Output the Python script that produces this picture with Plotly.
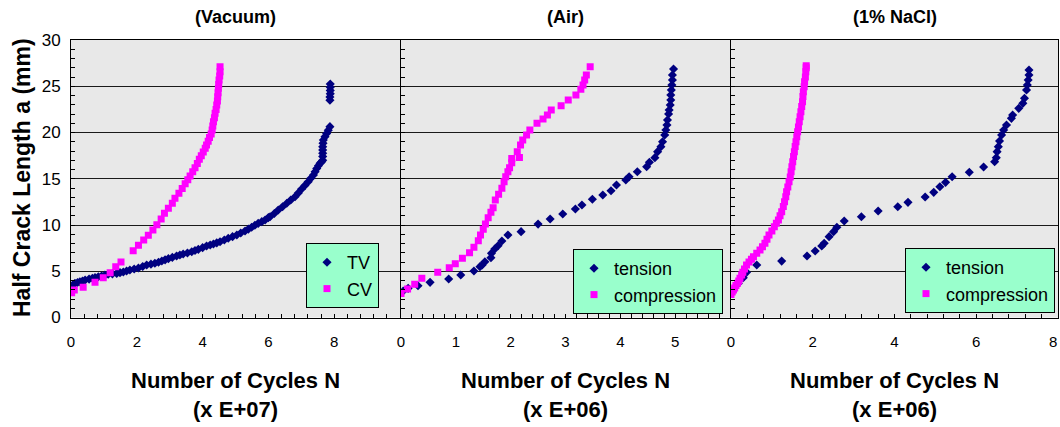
import plotly.graph_objects as go

# ---------------- data ----------------
# Panel 1 (Vacuum), N in units of 1E+07, a in mm
vac_tv_n = [0.00, 0.05, 0.12, 0.20, 0.27, 0.35, 0.43, 0.55, 0.65, 0.73, 0.83, 0.93, 1.03, 1.13, 1.26,
            1.39, 1.49, 1.59, 1.69, 1.79, 1.92, 2.05, 2.18, 2.30, 2.43, 2.55, 2.66, 2.76, 2.86, 2.96,
            3.08, 3.21, 3.31, 3.41, 3.54, 3.67, 3.77, 3.87, 4.00, 4.12, 4.23, 4.33, 4.43, 4.53, 4.66,
            4.78, 4.91, 5.04, 5.16, 5.29, 5.39, 5.49, 5.59, 5.69, 5.80, 5.90, 6.00, 6.05, 6.18, 6.30,
            6.43, 6.56, 6.68, 6.81, 6.91, 7.01, 7.11, 7.21, 7.29, 7.37, 7.42, 7.47, 7.52, 7.57, 7.62,
            7.65, 7.65, 7.65, 7.65, 7.65, 7.66, 7.67, 7.72, 7.77, 7.82, 7.87,
            7.87, 7.87, 7.88, 7.88, 7.88, 7.88]
vac_tv_a = [3.33, 3.50, 3.69, 3.78, 3.87, 3.95, 4.05, 4.15, 4.25, 4.31, 4.40, 4.49, 4.58, 4.67, 4.72,
            4.77, 4.85, 4.92, 5.03, 5.14, 5.25, 5.35, 5.52, 5.68, 5.77, 5.86, 5.98, 6.11, 6.23, 6.36,
            6.50, 6.65, 6.75, 6.86, 6.98, 7.11, 7.24, 7.37, 7.55, 7.73, 7.84, 7.95, 8.07, 8.19, 8.38,
            8.56, 8.74, 8.92, 9.13, 9.35, 9.55, 9.75, 9.97, 10.18, 10.36, 10.54, 10.80, 10.90, 11.25, 11.62,
            11.98, 12.35, 12.70, 13.06, 13.47, 13.89, 14.28, 14.68, 15.05, 15.40, 15.75, 16.10, 16.40, 16.67, 16.85,
            17.00, 17.40, 17.75, 18.10, 18.46, 18.85, 19.19, 19.55, 19.90, 20.25, 20.63,
            23.50, 23.85, 24.20, 24.55, 24.90, 25.25]
vac_cv_n = [0.02, 0.10, 0.37, 0.73, 0.98, 1.19, 1.36, 1.52, 1.89, 2.05, 2.21, 2.35, 2.49, 2.61, 2.74,
            2.84, 2.96, 3.08, 3.16, 3.28, 3.38, 3.47, 3.55, 3.62, 3.70, 3.77, 3.84, 3.90, 3.96, 4.02,
            4.08, 4.12, 4.17, 4.21, 4.26, 4.29, 4.31, 4.33, 4.36, 4.38, 4.41, 4.43, 4.45, 4.46, 4.47,
            4.48, 4.49, 4.50, 4.52, 4.53, 4.53]
vac_cv_a = [2.68, 2.97, 3.26, 3.80, 4.31, 4.85, 5.50, 6.00, 7.22, 7.80, 8.38, 8.88, 9.46, 10.03, 10.65,
            11.26, 11.80, 12.35, 12.89, 13.43, 13.95, 14.45, 14.90, 15.30, 15.75, 16.20, 16.65, 17.10, 17.50, 17.90,
            18.30, 18.65, 19.05, 19.45, 19.85, 20.27, 20.70, 21.17, 21.60, 22.07, 22.50, 22.97, 23.40, 23.87, 24.30,
            24.78, 25.20, 25.68, 26.10, 26.57, 27.10]

# Panel 2 (Air), N in units of 1E+06
air_t_n = [0.04, 0.13, 0.31, 0.53, 0.87, 1.09, 1.33, 1.44, 1.48, 1.53, 1.64, 1.65, 1.71, 1.77, 1.84,
           1.95, 2.19, 2.50, 2.72, 2.95, 3.18, 3.30, 3.49, 3.68, 3.83, 3.93, 4.10, 4.16, 4.31, 4.48,
           4.53, 4.63, 4.68, 4.74, 4.77, 4.81, 4.83, 4.85, 4.86, 4.88, 4.89, 4.91, 4.92, 4.92, 4.93,
           4.94, 4.95, 4.95, 4.97]
air_t_a = [2.86, 3.15, 3.44, 3.80, 4.16, 4.60, 5.03, 5.50, 5.68, 6.03, 6.47, 6.94, 7.40, 7.76, 8.27,
           8.92, 9.28, 10.10, 10.65, 11.19, 11.73, 12.16, 12.78, 13.24, 13.71, 14.32, 14.86, 15.22, 15.76, 16.30,
           16.78, 17.28, 17.93, 18.47, 19.00, 19.73, 20.27, 20.81, 21.35, 22.00, 22.43, 22.97, 23.51, 24.05, 24.59,
           25.14, 25.68, 26.22, 26.86]
air_c_n = [0.00, 0.12, 0.25, 0.38, 0.67, 0.88, 0.99, 1.12, 1.25, 1.33, 1.41, 1.45, 1.50, 1.54, 1.59,
           1.64, 1.68, 1.72, 1.78, 1.84, 1.88, 1.91, 1.95, 1.98, 2.02, 2.02, 2.16, 2.12, 2.18, 2.22,
           2.29, 2.35, 2.48, 2.59, 2.67, 2.74, 2.92, 3.05, 3.19, 3.28, 3.32, 3.35, 3.38, 3.45]
air_c_a = [2.60, 3.08, 3.59, 4.24, 4.88, 5.39, 5.82, 6.40, 7.01, 7.59, 8.30, 8.92, 9.54, 10.10, 10.79,
           11.37, 11.87, 12.70, 13.32, 13.97, 14.68, 15.22, 15.76, 16.20, 16.74, 17.20, 17.30, 17.93, 18.65, 19.19,
           19.73, 20.27, 21.00, 21.46, 21.89, 22.43, 22.90, 23.51, 24.05, 24.67, 25.14, 25.68, 26.22, 27.11]

# Panel 3 (1% NaCl), N in units of 1E+06
nacl_t_n = [0.06, 0.18, 0.30, 0.38, 0.63, 1.24, 1.86, 2.06, 2.22, 2.28, 2.40, 2.51, 2.59, 2.77, 3.19,
            3.60, 4.08, 4.33, 4.75, 4.96, 5.11, 5.25, 5.41, 5.83, 6.18, 6.45, 6.49, 6.51, 6.54, 6.57,
            6.62, 6.67, 6.74, 6.86, 6.89, 7.04, 7.14, 7.18, 7.23, 7.25, 7.27, 7.29, 7.29]
nacl_t_a = [2.97, 3.70, 4.31, 4.88, 5.68, 6.10, 6.65, 7.19, 7.73, 8.02, 8.74, 9.28, 9.75, 10.43, 10.90,
            11.51, 11.98, 12.45, 13.03, 13.53, 14.14, 14.61, 15.22, 15.70, 16.27, 16.84, 17.28, 17.93, 18.47, 19.08,
            19.73, 20.27, 20.81, 21.53, 21.89, 22.61, 23.15, 23.70, 24.59, 25.14, 25.68, 26.22, 26.76]
nacl_c_n = [0.00, 0.03, 0.06, 0.09, 0.12, 0.16, 0.19, 0.22, 0.26, 0.29, 0.33, 0.38, 0.44, 0.50, 0.55,
            0.63, 0.71, 0.77, 0.83, 0.88, 0.93, 1.00, 1.06, 1.11, 1.16, 1.20, 1.24, 1.28, 1.31, 1.34,
            1.36, 1.39, 1.42, 1.45, 1.47, 1.49, 1.51, 1.53, 1.55, 1.57, 1.59, 1.61, 1.63, 1.65, 1.67,
            1.69, 1.71, 1.73, 1.75, 1.76, 1.77, 1.79, 1.80, 1.82, 1.83, 1.84, 1.84]
nacl_c_a = [2.50, 2.75, 2.97, 3.20, 3.45, 3.70, 3.95, 4.25, 4.59, 4.90, 5.25, 5.68, 6.00, 6.30, 6.57,
            6.95, 7.30, 7.65, 8.02, 8.45, 8.92, 9.35, 9.82, 10.20, 10.54, 11.00, 11.44, 12.00, 12.52, 13.05,
            13.60, 14.10, 14.68, 15.20, 15.76, 16.30, 16.84, 17.40, 17.93, 18.50, 19.01, 19.55, 20.09, 20.60, 21.17,
            21.70, 22.25, 22.80, 23.33, 23.90, 24.41, 24.95, 25.49, 26.00, 26.57, 27.00, 27.22]

panel_titles = ["(Vacuum)", "(Air)", "(1% NaCl)"]
x_titles = ["Number of Cycles N<br>(x E+07)", "Number of Cycles N<br>(x E+06)", "Number of Cycles N<br>(x E+06)"]
y_title = "Half Crack Length a (mm)"
legend_names = [["TV", "CV"], ["tension", "compression"], ["tension", "compression"]]
x_ranges = [[0, 10], [0, 6], [0, 8]]
x_tickvals = [[0, 2, 4, 6, 8], [0, 1, 2, 3, 4, 5], [0, 2, 4, 6, 8]]
x_ticktext = [["0", "2", "4", "6", "8"], ["0", "1", "2", "3", "4", "5"], ["0", "2", "4", "6", ""]]
edge_label = "8"   # last label of panel 3, placed so it is not cut by the page edge
x_minor = [0.4, 0.2, 0.4]
y_tickvals = [0, 5, 10, 15, 20, 25, 30]

# ---------------- figure ----------------
W, H = 1060, 427
NAVY = "#000080"
MAG = "#FF00FF"
FONT = "Liberation Sans"

fig = go.Figure()

series = [
    (vac_tv_n, vac_tv_a, vac_cv_n, vac_cv_a),
    (air_t_n, air_t_a, air_c_n, air_c_a),
    (nacl_t_n, nacl_t_a, nacl_c_n, nacl_c_a),
]
legends = ["legend", "legend2", "legend3"]

for i, (tn, ta, cn, ca) in enumerate(series):
    xa = "x" if i == 0 else f"x{i+1}"
    ya = "y" if i == 0 else f"y{i+1}"
    fig.add_trace(go.Scatter(x=tn, y=ta, mode="markers", name=legend_names[i][0],
                             marker=dict(symbol="diamond", size=7, color=NAVY, line=dict(width=0)),
                             xaxis=xa, yaxis=ya, legend=legends[i], cliponaxis=True))
    fig.add_trace(go.Scatter(x=cn, y=ca, mode="markers", name=legend_names[i][1],
                             marker=dict(symbol="square", size=7, color=MAG, line=dict(width=0)),
                             xaxis=xa, yaxis=ya, legend=legends[i], cliponaxis=True))

# panel geometry in pixels
px_left = [71, 401, 731]
px_right = [400, 730, 1058]
y_top, y_bot = 40, 317.5

layout = dict(
    width=W, height=H,
    margin=dict(l=0, r=0, t=0, b=0, autoexpand=False),
    paper_bgcolor="white",
    plot_bgcolor="#E8E8E8",
    font=dict(family=FONT, size=15, color="black"),
)

for i in range(3):
    sfx = "" if i == 0 else str(i + 1)
    layout["xaxis" + sfx] = dict(
        domain=[px_left[i] / W, px_right[i] / W],
        range=x_ranges[i], anchor="y" + sfx,
        tickmode="array", tickvals=x_tickvals[i], ticktext=x_ticktext[i],
        ticks="inside", ticklen=4, tickcolor="black",
        minor=dict(ticks="inside", dtick=x_minor[i], ticklen=4, tickcolor="black", showgrid=False),
        showgrid=False, zeroline=False,
        showline=True, linecolor="black", linewidth=1, mirror=True,
        tickfont=dict(size=15, family=FONT),
        ticklabelstandoff=10, automargin=False,
    )
    layout["yaxis" + sfx] = dict(
        domain=[(H - y_bot) / H, (H - y_top) / H],
        range=[0, 30], anchor="x" + sfx,
        tickmode="array", tickvals=y_tickvals,
        ticks="inside", ticklen=4, tickcolor="black",
        minor=dict(ticks="inside", dtick=1, ticklen=4, tickcolor="black", showgrid=False),
        showgrid=True, gridcolor="#1a1a1a", gridwidth=1,
        zeroline=False,
        showline=True, linecolor="black", linewidth=1, mirror=True,
        showticklabels=(i == 0),
        tickfont=dict(size=17, family=FONT),
        ticklabelstandoff=6, automargin=False,
    )

leg_pos = [(306, 243), (573, 249), (905, 248)]
for i, key in enumerate(legends):
    lx, ly = leg_pos[i]
    layout[key] = dict(
        x=lx / W, y=1 - ly / H, xanchor="left", yanchor="top",
        xref="paper", yref="paper",
        bgcolor="#99FFCC", bordercolor="black", borderwidth=1,
        font=dict(size=18, family=FONT, color="black"),
        itemwidth=30, tracegroupgap=0,
    )

fig.update_layout(**layout)

annotations = []
for i in range(3):
    cx = (px_left[i] + px_right[i]) / 2
    annotations.append(dict(text="<b>" + panel_titles[i] + "</b>", x=cx / W, y=1 - 17 / H,
                            xref="paper", yref="paper", showarrow=False,
                            font=dict(size=18, family=FONT), xanchor="center", yanchor="middle"))
    annotations.append(dict(text="<b>" + x_titles[i] + "</b>", x=cx / W, y=1 - 395 / H,
                            xref="paper", yref="paper", showarrow=False,
                            font=dict(size=22, family=FONT), xanchor="center", yanchor="middle"))
annotations.append(dict(text="<b>" + y_title + "</b>", x=22 / W, y=1 - 178 / H,
                        xref="paper", yref="paper", showarrow=False, textangle=-90,
                        font=dict(size=23, family=FONT), xanchor="center", yanchor="middle"))
annotations.append(dict(text=edge_label, x=1, y=1 - 341 / H, xref="paper", yref="paper",
                        showarrow=False, xanchor="right", yanchor="middle", xshift=-1,
                        font=dict(size=15, family=FONT)))
fig.update_layout(annotations=annotations)

fig.write_html("out.html")
